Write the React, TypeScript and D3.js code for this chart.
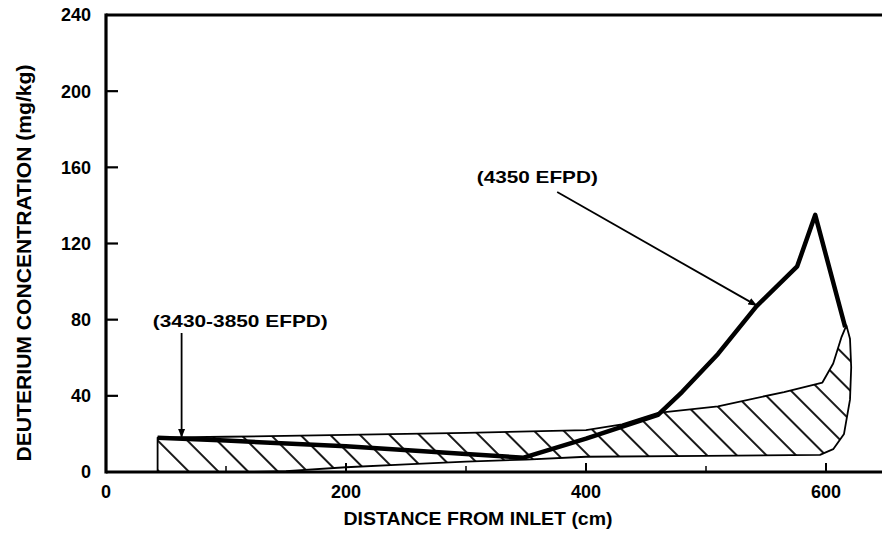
import React from "react";
import * as d3 from "d3";

// ---- data ----
const xTickMajor = [0, 200, 400, 600];
const xTickMinor = [100, 300, 500];
const yTicks = [0, 40, 80, 120, 160, 200, 240];

// 4350 EFPD profile
const curveX = [43, 100, 200, 300, 348, 400, 460, 480, 510, 542, 576, 591, 616];
const curveY = [18, 16.5, 13.5, 9.5, 7.5, 17.5, 30, 42, 62, 87, 108, 135, 76];

// 3430-3850 EFPD band (closed outline, clockwise)
const bandX = [43, 100, 200, 300, 400, 430, 460, 510, 565, 597, 606, 613, 617, 620, 621, 620, 615, 606, 595, 500, 400, 350, 300, 250, 200, 150, 120, 43];
const bandY = [18, 18.5, 19.5, 20.5, 22, 25, 31, 34.5, 42, 47, 57, 71, 77, 70, 55, 38, 20, 12, 9, 8.5, 8, 6.5, 5.5, 4, 2.5, 0.5, 0, 0];

// annotations (data coordinates)
const label4350 = { text: "(4350 EFPD)", x: 309, y: 152, ax0: 376, ay0: 147, ax1: 542, ay1: 87.5 };
const label3430 = { text: "(3430-3850 EFPD)", x: 39, y: 76, ax0: 63, ay0: 73, ax1: 63, ay1: 18.5 };

const W = 882;
const H = 539;
const FONT = "'Liberation Sans', Arial, Helvetica, sans-serif";

export default function App() {
  const x = d3.scaleLinear().domain([0, 600]).range([106, 826]);
  const y = d3.scaleLinear().domain([0, 240]).range([472, 15]);
  const left = 106, right = 882, top = 15, bottom = 472;

  const curvePts: [number, number][] = curveX.map((v, i) => [v, curveY[i]]);
  const bandPts: [number, number][] = bandX.map((v, i) => [v, bandY[i]]);
  const line = d3.line<[number, number]>().x((d) => x(d[0])).y((d) => y(d[1]));
  const bandPath = line.curve(d3.curveLinearClosed)(bandPts) || "";
  const curvePath = d3.line<[number, number]>().x((d) => x(d[0])).y((d) => y(d[1]))(curvePts) || "";

  return (
    <svg
      width={W}
      height={H}
      style={{ position: "absolute", left: 0, top: 0, background: "#fff" }}
      fontFamily={FONT}
    >
      <defs>
        <pattern id="hatch" patternUnits="userSpaceOnUse" width={21} height={21} patternTransform="rotate(-45)">
          <line x1={10} y1={0} x2={10} y2={21} stroke="#000" strokeWidth={1.8} />
        </pattern>
        <marker id="arrow" viewBox="0 0 10 10" refX={9} refY={5} markerWidth={9} markerHeight={9} markerUnits="userSpaceOnUse" orient="auto">
          <path d="M0,1 L10,5 L0,9 Z" fill="#000" />
        </marker>
      </defs>
      <rect x={0} y={0} width={W} height={H} fill="#fff" />

      {/* band */}
      <path d={bandPath} fill="url(#hatch)" stroke="#000" strokeWidth={1.8} strokeLinejoin="round" />

      {/* 4350 curve */}
      <path d={curvePath} fill="none" stroke="#000" strokeWidth={4.5} strokeLinejoin="round" />

      {/* frame */}
      <line x1={left} y1={top} x2={right} y2={top} stroke="#000" strokeWidth={3} />
      <line x1={left} y1={top - 1.5} x2={left} y2={bottom + 1.5} stroke="#000" strokeWidth={3.2} />
      <line x1={left} y1={bottom} x2={right} y2={bottom} stroke="#000" strokeWidth={3} />

      {/* y ticks */}
      {yTicks.map((t) => (
        <g key={"y" + t}>
          {t > 0 && t < 240 && (
            <line x1={left} x2={left + 12} y1={y(t)} y2={y(t)} stroke="#000" strokeWidth={2.2} />
          )}
          <text x={91} y={y(t)} dy="0.36em" textAnchor="end" fontSize={18} fontWeight="bold">
            {t}
          </text>
        </g>
      ))}

      {/* x ticks */}
      {xTickMajor.map((t) => (
        <g key={"x" + t}>
          {t > 0 && <line x1={x(t)} x2={x(t)} y1={bottom} y2={bottom - 9} stroke="#000" strokeWidth={2} />}
          <text x={x(t)} y={498} textAnchor="middle" fontSize={18} fontWeight="bold">
            {t}
          </text>
        </g>
      ))}
      {xTickMinor.map((t) => (
        <line key={"m" + t} x1={x(t)} x2={x(t)} y1={bottom} y2={bottom - 6} stroke="#000" strokeWidth={1.5} />
      ))}

      {/* axis titles */}
      <text x={478} y={525} textAnchor="middle" fontSize={18} fontWeight="bold" textLength={269} lengthAdjust="spacingAndGlyphs">
        DISTANCE FROM INLET (cm)
      </text>
      <text
        x={31}
        y={263}
        textAnchor="middle"
        fontSize={20}
        fontWeight="bold"
        transform="rotate(-90, 31, 263)"
        textLength={397}
        lengthAdjust="spacingAndGlyphs"
      >
        DEUTERIUM CONCENTRATION (mg/kg)
      </text>

      {/* annotations */}
      {[label4350, label3430].map((a) => (
        <g key={a.text}>
          <text x={x(a.x)} y={y(a.y)} fontSize={17} fontWeight="bold" textLength={a === label4350 ? 121 : 175} lengthAdjust="spacingAndGlyphs">
            {a.text}
          </text>
          <line
            x1={x(a.ax0)}
            y1={y(a.ay0)}
            x2={x(a.ax1)}
            y2={y(a.ay1)}
            stroke="#000"
            strokeWidth={1.8}
            markerEnd="url(#arrow)"
          />
        </g>
      ))}
    </svg>
  );
}
